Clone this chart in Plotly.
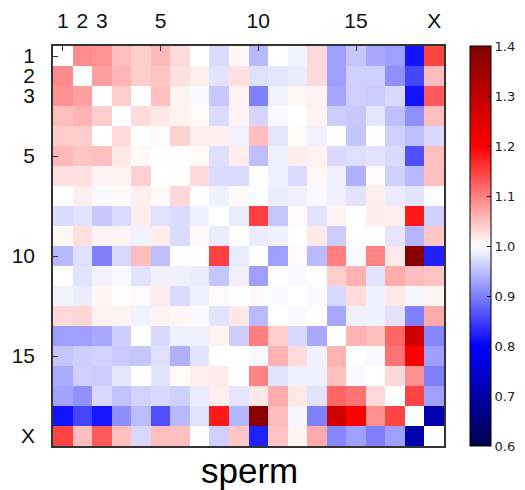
import plotly.graph_objects as go

chrom_labels = ['1', '2', '3', '5', '10', '15', 'X']
label_positions = [0, 1, 2, 5, 10, 15, 19]
tick_positions = [0, 5, 10, 15]

r01 = [1.0, 1.09, 1.085, 1.05, 1.04, 1.055, 1.028, 1.0, 0.972, 1.007, 0.945, 1.0, 0.99, 1.03, 0.925, 0.955, 0.932, 0.925, 0.815, 1.147]
r02 = [1.09, 1.0, 1.075, 1.058, 1.04, 1.046, 1.025, 1.013, 0.978, 1.025, 0.975, 0.98, 0.985, 1.03, 0.925, 0.963, 0.963, 0.913, 0.855, 1.052]
r03 = [1.085, 1.075, 1.0, 1.04, 1.0, 1.05, 1.01, 0.995, 0.957, 1.01, 0.9, 0.99, 1.007, 1.01, 0.93, 0.963, 0.96, 0.97, 0.815, 1.13]
r04 = [1.05, 1.058, 1.04, 1.0, 1.028, 1.018, 1.01, 1.005, 0.972, 1.01, 0.967, 0.995, 1.0, 1.01, 0.96, 0.957, 0.98, 0.95, 0.912, 1.05]
r05 = [1.04, 1.04, 1.0, 1.028, 1.0, 1.005, 1.035, 1.013, 1.013, 0.99, 1.052, 0.98, 1.005, 0.99, 1.0, 0.955, 1.0, 0.963, 0.95, 0.97]
r06 = [1.055, 1.046, 1.05, 1.018, 1.005, 1.0, 1.0, 1.005, 0.975, 1.015, 0.95, 0.988, 1.015, 1.01, 0.97, 0.975, 0.978, 0.97, 0.862, 1.05]
r07 = [1.025, 1.025, 1.01, 1.01, 1.035, 1.0, 1.0, 1.03, 0.972, 0.972, 1.0, 0.988, 0.972, 1.007, 0.988, 0.938, 1.005, 0.963, 0.945, 1.05]
r08 = [1.0, 1.013, 0.995, 1.005, 1.013, 1.005, 1.03, 1.0, 0.988, 1.005, 1.0, 0.985, 0.988, 0.995, 0.988, 0.978, 1.013, 0.985, 0.978, 1.0]
r09 = [0.972, 0.978, 0.957, 0.972, 1.015, 0.976, 0.972, 0.988, 1.0, 0.985, 1.15, 0.955, 1.005, 0.978, 1.01, 1.0, 1.015, 1.013, 1.18, 0.963]
r10 = [1.007, 1.025, 1.01, 1.01, 0.99, 1.015, 0.972, 1.005, 0.985, 1.0, 0.985, 0.988, 1.0, 1.018, 0.96, 1.0, 1.0, 0.98, 0.942, 1.045]
r11 = [0.945, 0.975, 0.9, 0.968, 1.052, 0.95, 1.0, 1.0, 1.15, 0.985, 1.0, 0.925, 1.005, 0.946, 1.1, 0.995, 1.097, 1.018, 1.387, 0.825]
r12 = [1.0, 0.978, 0.99, 0.995, 0.978, 0.988, 0.988, 0.985, 0.955, 0.988, 0.925, 1.0, 0.995, 1.0, 1.04, 1.06, 0.978, 1.065, 1.052, 1.047]
r13 = [0.99, 0.985, 1.008, 1.0, 1.005, 1.016, 0.972, 0.988, 1.005, 1.0, 1.005, 0.995, 1.0, 0.995, 0.97, 1.028, 0.988, 1.018, 0.993, 1.008]
r14 = [1.03, 1.032, 1.01, 1.01, 0.99, 1.01, 1.007, 0.995, 0.978, 1.018, 0.946, 1.0, 0.995, 1.0, 0.932, 0.988, 0.988, 0.977, 0.9, 1.067]
r15 = [0.925, 0.925, 0.932, 0.962, 1.0, 0.97, 0.988, 0.988, 1.01, 0.96, 1.1, 1.04, 0.97, 0.932, 1.0, 1.06, 1.05, 1.12, 1.274, 0.905]
r16 = [0.955, 0.962, 0.965, 0.958, 0.955, 0.976, 0.938, 0.978, 1.0, 1.0, 0.995, 1.06, 1.028, 0.988, 1.06, 1.0, 0.995, 1.11, 1.2, 0.925]
r17 = [0.933, 0.963, 0.96, 0.979, 1.0, 0.978, 1.005, 1.013, 1.016, 1.0, 1.097, 0.978, 0.988, 0.988, 1.05, 0.995, 1.0, 1.03, 1.087, 0.9]
r18 = [0.928, 0.913, 0.97, 0.952, 0.965, 0.97, 0.963, 0.985, 1.013, 0.98, 1.018, 1.065, 1.018, 0.977, 1.12, 1.11, 1.03, 1.0, 1.147, 0.925]
r19 = [0.815, 0.854, 0.817, 0.911, 0.947, 0.862, 0.945, 0.978, 1.18, 0.942, 1.387, 1.052, 0.993, 0.9, 1.274, 1.2, 1.087, 1.147, 1.0, 0.711]
r20 = [1.147, 1.052, 1.13, 1.05, 0.968, 1.05, 1.05, 1.0, 0.963, 1.045, 0.825, 1.047, 1.008, 1.067, 0.905, 0.925, 0.9, 0.925, 0.711, 1.0]

z = [r01, r02, r03, r04, r05, r06, r07, r08, r09, r10,
     r11, r12, r13, r14, r15, r16, r17, r18, r19, r20]
idx = list(range(20))

seismic = [[0.0, 'rgb(0,0,76)'], [0.25, 'rgb(0,0,255)'], [0.5, 'rgb(255,255,255)'],
           [0.75, 'rgb(255,0,0)'], [1.0, 'rgb(128,0,0)']]

fig = go.Figure(go.Heatmap(
    z=z, x=idx, y=idx, colorscale=seismic, zmin=0.6, zmax=1.4,
    xgap=0, ygap=0,
    colorbar=dict(
        x=(473 - 45) / 401, xanchor='left', xpad=0, ypad=0,
        y=0.5, yanchor='middle', len=1.0, lenmode='fraction',
        thickness=21, outlinecolor='black', outlinewidth=1,
        tickvals=[0.6, 0.7, 0.8, 0.9, 1.0, 1.1, 1.2, 1.3, 1.4],
        ticktext=['0.6', '0.7', '0.8', '0.9', '1.0', '1.1', '1.2', '1.3', '1.4'],
        ticks='inside', ticklen=4, tickcolor='black',
        tickfont=dict(family='DejaVu Sans', size=13, color='#222'),
    ),
))

axis_common = dict(
    tickmode='array', tickvals=label_positions, ticktext=chrom_labels,
    ticks='', showline=True, linecolor='#333', linewidth=1.5, mirror=True,
    showgrid=False, zeroline=False, automargin=False,
    tickfont=dict(family='Liberation Sans, Arial', size=21, color='#111'),
    minor=dict(tickmode='array', tickvals=tick_positions, ticks='inside', ticklen=5,
               tickcolor='#333', showgrid=False),
)

fig.update_layout(
    width=525, height=490,
    margin=dict(l=45, r=79, t=38, b=52),
    paper_bgcolor='white', plot_bgcolor='white',
    xaxis=dict(side='top', range=[-0.5, 19.5], ticklabelstandoff=8, **axis_common),
    yaxis=dict(range=[19.5, -0.5], ticklabelstandoff=12, **axis_common),
    annotations=[dict(text='sperm', x=(247 - 45) / 401, y=-0.062, xref='paper', yref='paper',
                      xanchor='center', yanchor='middle', showarrow=False,
                      font=dict(family='Liberation Sans, Arial', size=35, color='black'))],
)

fig.write_html('out.html')
